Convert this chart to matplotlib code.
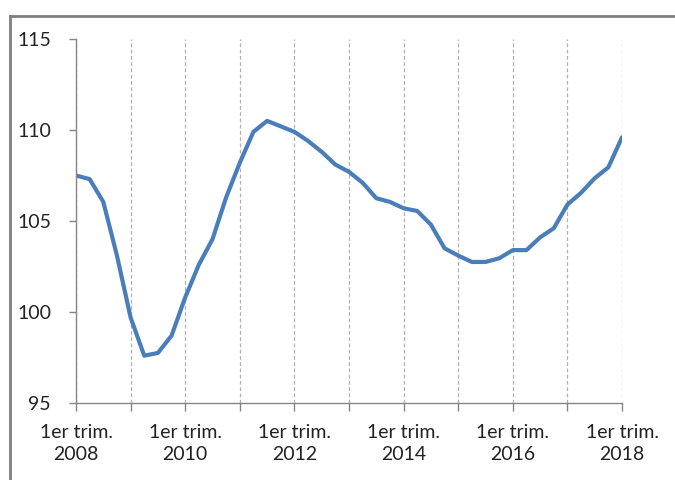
import matplotlib
matplotlib.use('Agg')
import matplotlib.pyplot as plt
from matplotlib.lines import Line2D
import numpy as np

plt.rcParams['font.family'] = ['Lato', 'DejaVu Sans']

# Quarterly index, 1st quarter 2008 to 1st quarter 2018
values = [107.5, 107.3, 106.05, 103.1, 99.7, 97.6, 97.75, 98.7, 100.8, 102.6,
          104.0, 106.3, 108.2, 109.9, 110.5, 110.2, 109.9, 109.4, 108.8, 108.1,
          107.7, 107.1, 106.25, 106.05, 105.7, 105.55, 104.8, 103.5, 103.1, 102.75,
          102.75, 102.95, 103.4, 103.4, 104.1, 104.6, 105.9, 106.55, 107.35, 107.95,
          109.6]
years = [2008, 2010, 2012, 2014, 2016, 2018]
y_ticks = [95, 100, 105, 110, 115]

fig = plt.figure(figsize=(6.75, 4.8), dpi=100)
ax = fig.add_axes([76 / 675, 1 - 403 / 480, (622 - 76) / 675, (403 - 39) / 480])

x = np.arange(len(values))
ax.plot(x, values, color='#4a7ebb', linewidth=3, solid_capstyle='round')

ax.set_xlim(0, len(values) - 1)
ax.set_ylim(95, 115)

# yearly ticks and dashed gridlines, labels every two years
ax.set_xticks(np.arange(0, len(values), 4))
labels = []
for k in range(0, len(values), 4):
    yr = 2008 + k // 4
    labels.append(f'1er trim.\n{yr}' if yr in years else '')
ax.set_xticklabels(labels, fontsize=14, color='#222222', linespacing=1.35)
ax.set_yticks(y_ticks)
ax.set_yticklabels([str(v) for v in y_ticks], fontsize=14, color='#222222')

ax.xaxis.grid(True, linestyle=(0, (3, 2)), color='#b0b0b0', linewidth=0.9)
ax.yaxis.grid(False)
ax.tick_params(axis='x', length=6, width=1, color='#868686', pad=9)
ax.tick_params(axis='y', length=5, width=1, color='#868686', pad=13)

for side in ['top', 'right']:
    ax.spines[side].set_visible(False)
for side in ['left', 'bottom']:
    ax.spines[side].set_color('#868686')
    ax.spines[side].set_linewidth(1)

# frame of the chart area (top and left edges visible)
fig.add_artist(Line2D([10 / 675, 1], [1 - 16 / 480, 1 - 16 / 480], color='#808080', linewidth=2))
fig.add_artist(Line2D([10 / 675, 10 / 675], [0, 1 - 16 / 480], color='#808080', linewidth=2))

fig.savefig('out.png', dpi=100)
